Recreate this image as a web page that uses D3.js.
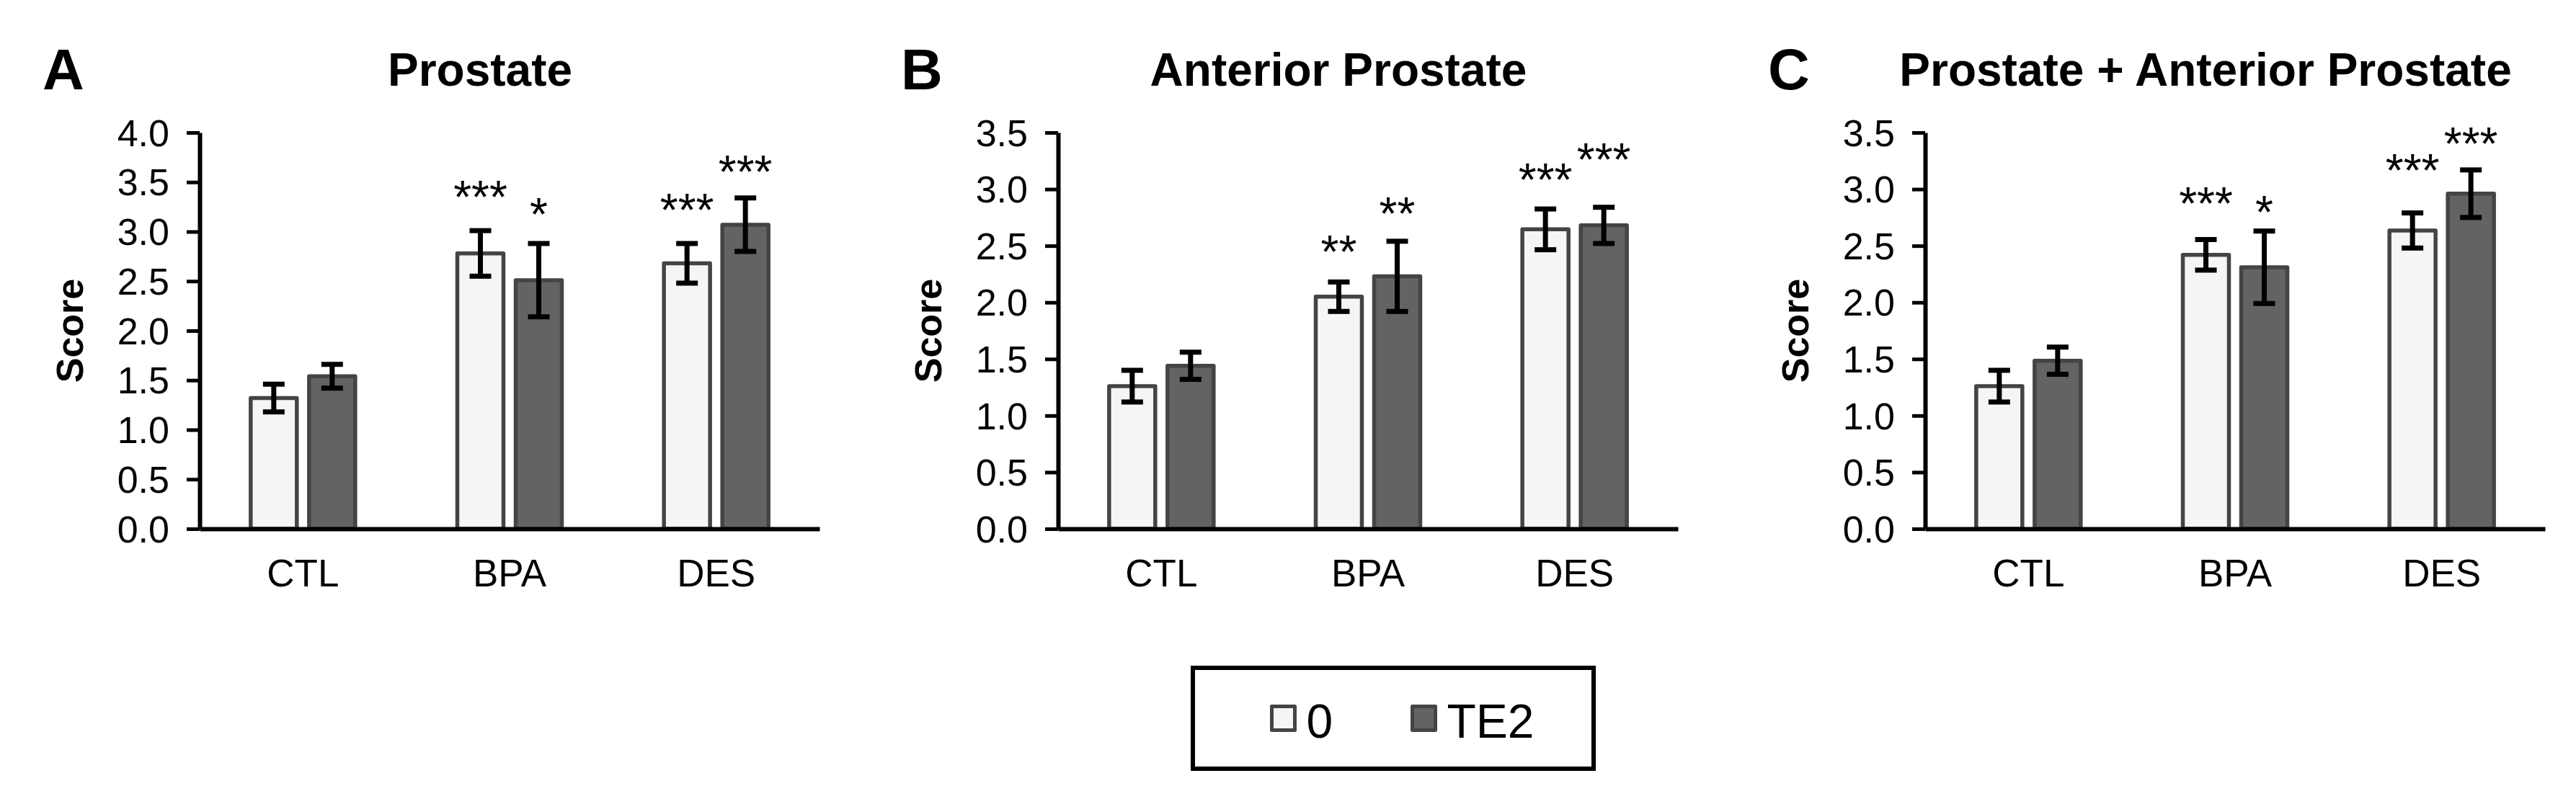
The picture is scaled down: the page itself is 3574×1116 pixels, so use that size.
<!DOCTYPE html>
<html>
<head>
<meta charset="utf-8">
<script src="https://cdn.jsdelivr.net/npm/d3@7"></script>
<style>
  body { margin: 0; background: #fff; }
  svg { display: block; font-family: "Liberation Sans", Arial, sans-serif; }
</style>
</head>
<body>
<div id="chart"></div>
<script>
// ---- data ----
var categories = ["CTL", "BPA", "DES"];
var series = ["0", "TE2"];
var panelLetters = ["A", "B", "C"];
var panelTitles = ["Prostate", "Anterior Prostate", "Prostate + Anterior Prostate"];
var yMaxes = [4.0, 3.5, 3.5];

// A - Prostate
var prostate0 = [1.32, 2.78, 2.68];
var prostate0Err = [0.14, 0.23, 0.20];
var prostateTE2 = [1.54, 2.51, 3.07];
var prostateTE2Err = [0.12, 0.37, 0.27];
var prostate0Sig = ["", "***", "***"];
var prostateTE2Sig = ["", "*", "***"];
var prostate0SigAt = [null, 3.45, 3.32];
var prostateTE2SigAt = [null, 3.27, 3.70];

// B - Anterior prostate
var anterior0 = [1.26, 2.05, 2.645];
var anterior0Err = [0.14, 0.13, 0.18];
var anteriorTE2 = [1.44, 2.23, 2.68];
var anteriorTE2Err = [0.12, 0.31, 0.16];
var anterior0Sig = ["", "**", "***"];
var anteriorTE2Sig = ["", "**", "***"];
var anterior0SigAt = [null, 2.53, 3.17];
var anteriorTE2SigAt = [null, 2.87, 3.35];

// C - Prostate + anterior prostate
var combined0 = [1.26, 2.42, 2.635];
var combined0Err = [0.14, 0.135, 0.155];
var combinedTE2 = [1.485, 2.31, 2.96];
var combinedTE2Err = [0.12, 0.32, 0.21];
var combined0Sig = ["", "***", "***"];
var combinedTE2Sig = ["", "*", "***"];
var combined0SigAt = [null, 2.96, 3.25];
var combinedTE2SigAt = [null, 2.88, 3.49];

// ---- layout ----
var W = 3574, H = 1116;
var axisLefts = [277, 1468, 2671];
var plotW = 860;
var yTop = 184, yBottom = 734;
var fills = d3.scaleOrdinal().domain(series).range(["#f5f5f5", "#636363"]);
var barStroke = "#444444";

var svg = d3.select("#chart").append("svg")
  .attr("width", W)
  .attr("height", H);

function makeRows(means, errs, sigs, sigAt) {
  return categories.map(function(c, i) {
    return { cat: c, v: means[i], e: errs[i], sig: sigs[i], sigAt: sigAt[i] };
  });
}

var panels = [
  { s0: makeRows(prostate0, prostate0Err, prostate0Sig, prostate0SigAt),
    s1: makeRows(prostateTE2, prostateTE2Err, prostateTE2Sig, prostateTE2SigAt) },
  { s0: makeRows(anterior0, anterior0Err, anterior0Sig, anterior0SigAt),
    s1: makeRows(anteriorTE2, anteriorTE2Err, anteriorTE2Sig, anteriorTE2SigAt) },
  { s0: makeRows(combined0, combined0Err, combined0Sig, combined0SigAt),
    s1: makeRows(combinedTE2, combinedTE2Err, combinedTE2Sig, combinedTE2SigAt) }
];

/**
* drawPanel
* [one grouped bar chart with error bars and significance stars]
**/
function drawPanel(k) {
  var left = axisLefts[k];
  var g = svg.append("g");

  var x0 = d3.scaleBand()
    .domain(categories)
    .range([left, left + plotW])
    .paddingInner(0)
    .paddingOuter(0);

  var x1 = d3.scaleBand()
    .domain(series)
    .range([x0.bandwidth() / 2 - 72.5, x0.bandwidth() / 2 + 72.5])
    .paddingInner(0.21)
    .paddingOuter(0);

  var y = d3.scaleLinear()
    .domain([0, yMaxes[k]])
    .range([yBottom, yTop]);

  // panel letter + title
  g.append("text")
    .attr("x", left - 218)
    .attr("y", 124)
    .attr("font-size", 80)
    .attr("font-weight", "bold")
    .text(panelLetters[k]);

  g.append("text")
    .attr("x", left + plotW / 2 - 41)
    .attr("y", 119)
    .attr("text-anchor", "middle")
    .attr("font-size", 64)
    .attr("font-weight", "bold")
    .text(panelTitles[k]);

  // y axis label
  g.append("text")
    .attr("transform", "translate(" + (left - 162) + "," + ((yTop + yBottom) / 2) + ") rotate(-90)")
    .attr("text-anchor", "middle")
    .attr("font-size", 52)
    .attr("font-weight", "bold")
    .text("Score");

  // bars, one series at a time
  [panels[k].s0, panels[k].s1].forEach(function(rows, si) {
    var s = series[si];
    var sg = g.append("g");

    sg.selectAll("rect")
      .data(rows)
      .enter()
      .append("rect")
      .attr("x", function(d) { return x0(d.cat) + x1(s); })
      .attr("y", function(d) { return y(d.v); })
      .attr("width", x1.bandwidth())
      .attr("height", function(d) { return y(0) - y(d.v); })
      .attr("fill", fills(s))
      .attr("stroke", barStroke)
      .attr("stroke-width", 5.5)
      .attr("stroke-linejoin", "round");

    var cx = function(d) { return x0(d.cat) + x1(s) + x1.bandwidth() / 2; };

    // error bars: stem + two caps
    sg.selectAll(".stem")
      .data(rows)
      .enter()
      .append("line")
      .attr("class", "stem")
      .attr("x1", cx).attr("x2", cx)
      .attr("y1", function(d) { return y(d.v + d.e); })
      .attr("y2", function(d) { return y(d.v - d.e); })
      .attr("stroke", "#000")
      .attr("stroke-width", 7);

    ["top", "bot"].forEach(function(end) {
      sg.selectAll(".cap-" + end)
        .data(rows)
        .enter()
        .append("line")
        .attr("class", "cap-" + end)
        .attr("x1", function(d) { return cx(d) - 15; })
        .attr("x2", function(d) { return cx(d) + 15; })
        .attr("y1", function(d) { return y(end == "top" ? d.v + d.e : d.v - d.e); })
        .attr("y2", function(d) { return y(end == "top" ? d.v + d.e : d.v - d.e); })
        .attr("stroke", "#000")
        .attr("stroke-width", 7);
    });

    // significance stars (sigAt = vertical middle of the glyphs)
    sg.selectAll(".sig")
      .data(rows.filter(function(d) { return d.sig; }))
      .enter()
      .append("text")
      .attr("class", "sig")
      .attr("x", cx)
      .attr("y", function(d) { return y(d.sigAt) + 36; })
      .attr("text-anchor", "middle")
      .attr("font-size", 64)
      .text(function(d) { return d.sig; });
  });

  // y axis
  var yAxis = d3.axisLeft(y)
    .tickValues(d3.range(0, yMaxes[k] + 0.01, 0.5))
    .tickFormat(d3.format(".1f"))
    .tickSize(18)
    .tickSizeOuter(0)
    .tickPadding(24);

  var ya = g.append("g")
    .attr("transform", "translate(" + left + ",0)")
    .call(yAxis);
  ya.select(".domain").attr("stroke", "#000").attr("stroke-width", 6);
  ya.selectAll(".tick line").attr("stroke", "#000").attr("stroke-width", 5);
  ya.selectAll(".tick text")
    .attr("font-size", 52)
    .attr("font-family", null)
    .attr("fill", "#000")
    .attr("dy", "0.35em");

  // x axis
  var xAxis = d3.axisBottom(x0).tickSize(0).tickSizeOuter(0);
  var xa = g.append("g")
    .attr("transform", "translate(0," + yBottom + ")")
    .call(xAxis);
  xa.select(".domain").attr("stroke", "#000").attr("stroke-width", 6);
  xa.selectAll(".tick text")
    .attr("font-size", 53)
    .attr("font-family", null)
    .attr("fill", "#000")
    .attr("y", 80)
    .attr("dy", null);
}

panels.forEach(function(p, k) { drawPanel(k); });

// ---- legend ----
var legend = svg.append("g");
legend.append("rect")
  .attr("x", 1655).attr("y", 927)
  .attr("width", 556).attr("height", 140)
  .attr("fill", "#fff")
  .attr("stroke", "#000")
  .attr("stroke-width", 6);

var legendX = d3.scalePoint().domain(series).range([1764.5, 1959.5]);

legend.selectAll(".swatch")
  .data(series)
  .enter()
  .append("rect")
  .attr("class", "swatch")
  .attr("x", function(d) { return legendX(d); })
  .attr("y", 980.5)
  .attr("width", 32)
  .attr("height", 33)
  .attr("fill", function(d) { return fills(d); })
  .attr("stroke", barStroke)
  .attr("stroke-width", 5)
  .attr("stroke-linejoin", "round");

legend.selectAll(".label")
  .data(series)
  .enter()
  .append("text")
  .attr("class", "label")
  .attr("x", function(d) { return legendX(d) + 48; })
  .attr("y", 1024)
  .attr("font-size", 66)
  .text(function(d) { return d; });
</script>
</body>
</html>
